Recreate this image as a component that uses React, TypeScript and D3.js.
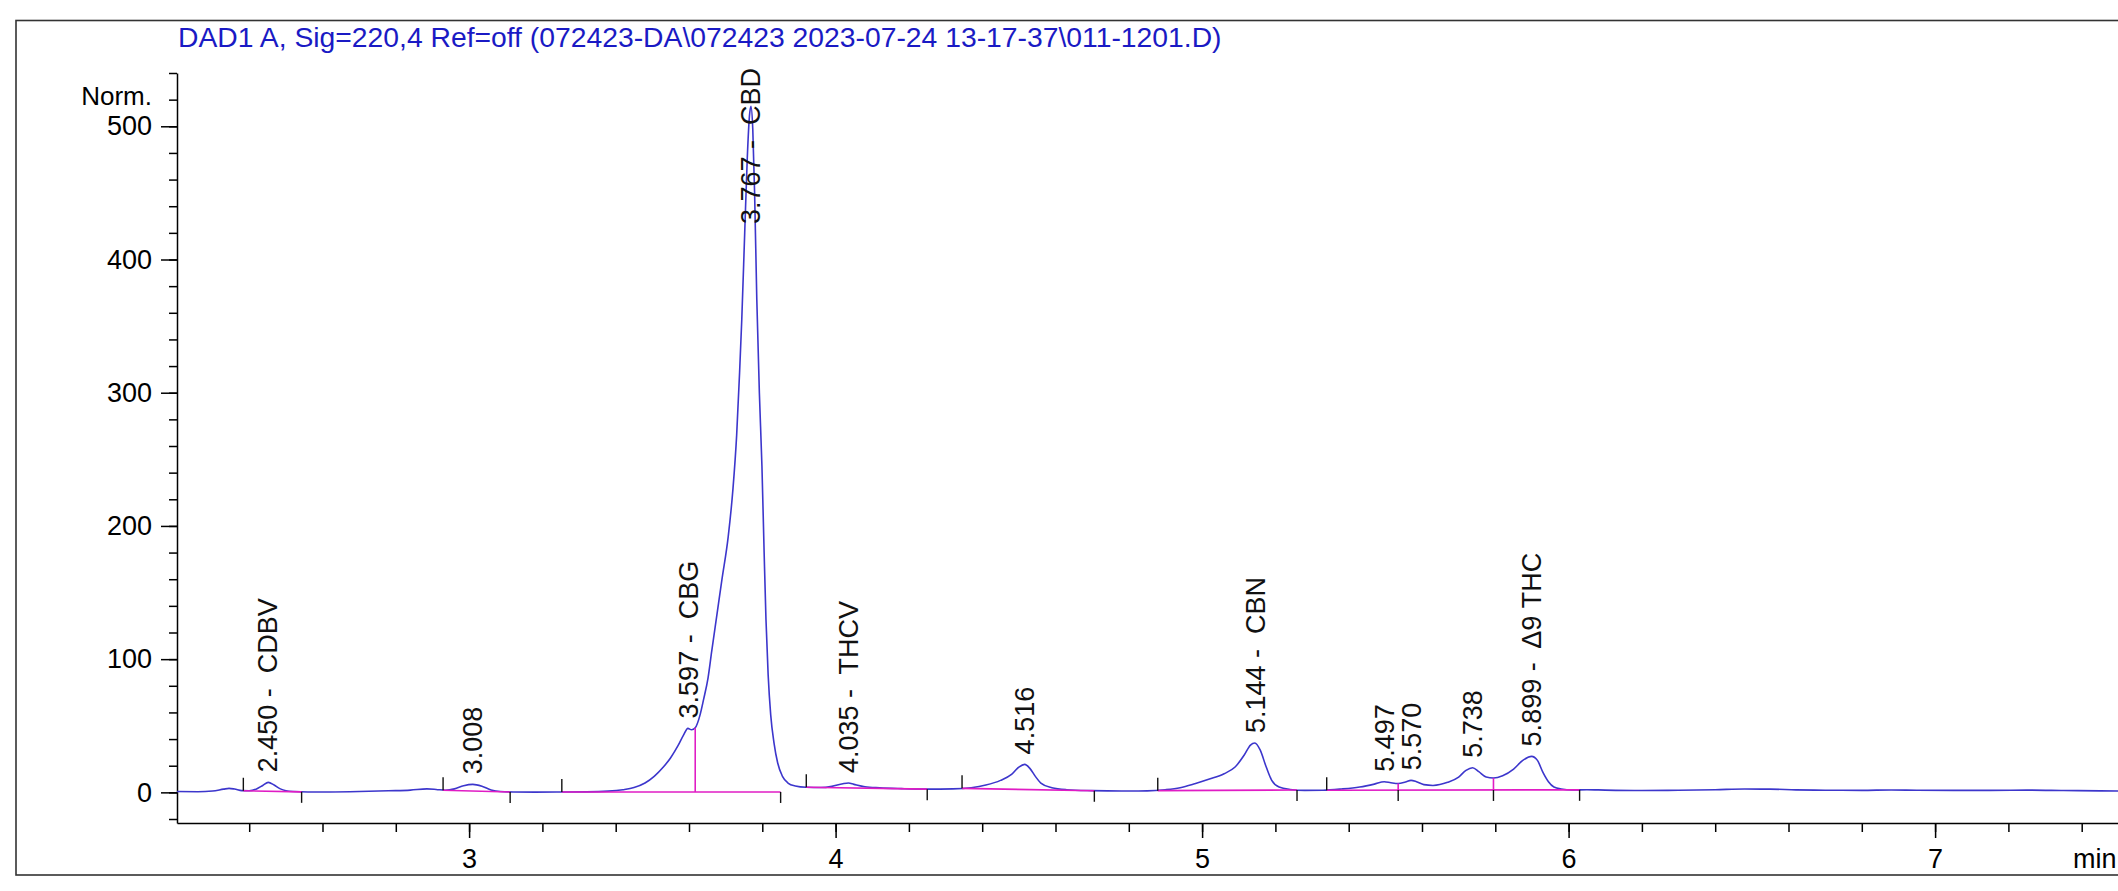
import React, {useEffect, useRef} from 'react';
import * as d3 from 'd3';

// Chromatogram: DAD1 A, 220 nm
const TITLE =
  'DAD1 A, Sig=220,4 Ref=off (072423-DA\\072423 2023-07-24 13-17-37\\011-1201.D)';

// retention time (min) and signal (Norm.)
const times = [
  2.2, 2.26, 2.3, 2.33, 2.345, 2.36, 2.38, 2.4, 2.42, 2.437, 2.452, 2.468,
  2.485, 2.5, 2.52, 2.56, 2.62, 2.7, 2.78, 2.84, 2.885, 2.91, 2.935, 2.96,
  2.985, 3.01, 3.035, 3.06, 3.085, 3.12, 3.18, 3.25, 3.32, 3.38, 3.42, 3.45,
  3.48, 3.505, 3.53, 3.55, 3.57, 3.585, 3.597, 3.607, 3.617, 3.63, 3.64,
  3.652, 3.662, 3.676, 3.69, 3.707, 3.72, 3.73, 3.738, 3.744, 3.752, 3.759,
  3.765, 3.769, 3.774, 3.779, 3.785, 3.792, 3.799, 3.805, 3.81, 3.816, 3.823,
  3.832, 3.842, 3.855, 3.87, 3.89, 3.92, 3.96, 3.99, 4.02, 4.035, 4.05, 4.08,
  4.12, 4.18, 4.25, 4.32, 4.37, 4.41, 4.45, 4.48, 4.5, 4.516, 4.53, 4.545,
  4.56, 4.59, 4.63, 4.7, 4.78, 4.85, 4.9, 4.94, 4.98, 5.02, 5.06, 5.09,
  5.115, 5.132, 5.144, 5.158, 5.175, 5.19, 5.21, 5.24, 5.28, 5.33, 5.38,
  5.43, 5.47, 5.497, 5.515, 5.535, 5.555, 5.57, 5.585, 5.605, 5.63, 5.67,
  5.7, 5.72, 5.738, 5.755, 5.775, 5.795, 5.82, 5.85, 5.875, 5.899, 5.915,
  5.93, 5.945, 5.96, 5.98, 6.01, 6.05, 6.1, 6.2, 6.3, 6.4, 6.48, 6.55, 6.62,
  6.7, 6.8, 6.88, 6.95, 7.05, 7.15, 7.25, 7.35, 7.45, 7.55, 7.6,
];
const signal = [
  0.6, 0.5, 1.0, 2.4, 3.0, 2.5, 1.3, 1.2, 2.6, 5.2, 7.5, 5.5,
  2.6, 1.2, 0.6, 0.3, 0.3, 0.6, 1.2, 1.7, 2.6, 2.2, 1.6, 2.6,
  5.0, 6.0, 4.6, 1.8, 0.6, 0.3, 0.2, 0.3, 0.4, 0.9, 2.0, 3.6,
  7.0, 12, 19, 26, 35, 43, 48, 47, 48.5, 58, 70,
  86, 106, 133, 160, 192, 228, 268, 315, 355, 420, 476,
  508, 515, 498, 450, 370, 300, 245, 180, 130, 88, 58,
  37, 22, 12, 7, 4.8, 3.8, 3.6, 4.5, 6.5, 7.0, 6.0, 4.2,
  3.4, 2.8, 2.4, 2.6, 3.5, 5.5, 9, 13.5, 19, 21, 18, 12,
  7, 3.5, 2.0, 1.3, 1.0, 1.1, 2.0, 3.5, 6.5, 10, 14, 19,
  28, 35.5, 37, 32, 19, 9, 4, 2.2, 1.5, 1.6, 2.5,
  4.0, 6.2, 8.0, 7.2, 6.6, 7.8, 9.0, 8.0, 5.8, 5.2, 7.5,
  11.5, 16.5, 18.5, 15.5, 11.5, 10.8, 12.5, 17.5, 24, 27, 24,
  15, 8, 4, 2.5, 1.8, 2.0, 1.7, 1.4, 1.6, 2.0, 2.5, 2.4, 1.9,
  1.6, 1.5, 1.8, 1.6, 1.5, 1.5, 1.7, 1.4, 1.1, 1.0, 1.0,
];

// peak annotations
const peakTimes = [2.45, 3.008, 3.597, 3.767, 4.035, 4.516, 5.144, 5.497, 5.57, 5.738, 5.899];
const peakNames = ['CDBV', '', 'CBG', 'CBD', 'THCV', '', 'CBN', '', '', '', 'Δ9 THC'];
const peakHeights = [7.5, 6, 48, 515, 7, 21, 37, 8, 9, 18.5, 27];

// integration baselines
const baseStart = [2.384, 2.929, 3.253, 3.92, 4.345, 4.879, 5.34];
const baseStartValue = [1.2, 1.6, 0.3, 3.8, 3.0, 1.3, 1.6];
const baseEnd = [2.543, 3.112, 3.85, 4.25, 4.706, 5.259, 6.03];
const baseEndValue = [0.4, 0.3, 0.3, 2.4, 1.2, 1.8, 1.9];

// drop lines between unresolved peaks
const dropTimes = [3.617, 5.535, 5.795];
const dropBase = [0.3, 1.7, 1.8];
const dropTop = [48.5, 6.6, 10.8];

// extra event marks (on drop lines)
const markTimes = [5.535, 5.795];
const markValues = [1.7, 1.8];

const xMajorTicks = [3, 4, 5, 6, 7];
const yMajorTicks = [0, 100, 200, 300, 400, 500];

const W = 2118;
const H = 891;
const FONT = '"Liberation Sans", Arial, Helvetica, sans-serif';

export default function App() {
  const svgRef = useRef<SVGSVGElement>(null);

  useEffect(() => {
    if (!svgRef.current) return;
    const svg = d3.select(svgRef.current);
    svg.selectAll('*').remove();

    const left = 177;
    const top = 73;
    const bottom = 823;
    const pxPerMin = 366.5;
    const x0 = 2.203;
    const x1 = 7.6;

    const x = d3
      .scaleLinear()
      .domain([x0, x1])
      .range([left, left + (x1 - x0) * pxPerMin]);
    const y = d3.scaleLinear().domain([-23, 540]).range([bottom, top]);

    // outer frame
    svg
      .append('rect')
      .attr('x', 16)
      .attr('y', 20.5)
      .attr('width', W)
      .attr('height', 854.5)
      .attr('fill', 'none')
      .attr('stroke', '#333')
      .attr('stroke-width', 1.6);

    svg
      .append('text')
      .attr('x', 178)
      .attr('y', 47)
      .attr('font-family', FONT)
      .attr('font-size', 28.3)
      .attr('fill', '#1a1ac4')
      .text(TITLE);

    svg
      .append('text')
      .attr('x', 152)
      .attr('y', 105)
      .attr('text-anchor', 'end')
      .attr('font-family', FONT)
      .attr('font-size', 26)
      .text('Norm.');

    // y axis
    svg
      .append('g')
      .attr('transform', `translate(${left},0)`)
      .call(
        d3
          .axisLeft(y)
          .tickValues(d3.range(-20, 541, 20))
          .tickSize(8)
          .tickSizeOuter(0)
          .tickFormat(() => ''),
      )
      .call((g) => g.selectAll('line,path').attr('stroke-width', 1.5));

    svg
      .append('g')
      .attr('transform', `translate(${left},0)`)
      .call(d3.axisLeft(y).tickValues(yMajorTicks).tickSize(16).tickPadding(9))
      .attr('font-size', 27)
      .attr('font-family', FONT)
      .call((g) => g.select('.domain').remove())
      .call((g) => g.selectAll('line').attr('stroke-width', 1.5));

    // x axis
    svg
      .append('g')
      .attr('transform', `translate(0,${bottom})`)
      .call(
        d3
          .axisBottom(x)
          .tickValues(d3.range(12, 38).map((i) => i / 5))
          .tickSize(9)
          .tickSizeOuter(0)
          .tickFormat(() => ''),
      )
      .call((g) => g.selectAll('line,path').attr('stroke-width', 1.5));

    svg
      .append('g')
      .attr('transform', `translate(0,${bottom})`)
      .call(
        d3
          .axisBottom(x)
          .tickValues(xMajorTicks)
          .tickSize(15)
          .tickPadding(11)
          .tickFormat(d3.format('d')),
      )
      .attr('font-size', 27)
      .attr('font-family', FONT)
      .call((g) => g.select('.domain').remove())
      .call((g) => g.selectAll('line').attr('stroke-width', 1.5));

    svg
      .append('text')
      .attr('x', 2073)
      .attr('y', 868)
      .attr('font-family', FONT)
      .attr('font-size', 27)
      .text('min');

    // clip for the trace
    svg
      .append('defs')
      .append('clipPath')
      .attr('id', 'plot-clip')
      .append('rect')
      .attr('x', left)
      .attr('y', top)
      .attr('width', W)
      .attr('height', bottom - top);

    const points = times.map((t, i) => [t, signal[i]] as [number, number]);
    const line = d3
      .line<[number, number]>()
      .x((d) => x(d[0]))
      .y((d) => y(d[1]))
      .curve(d3.curveMonotoneX);

    const plot = svg.append('g').attr('clip-path', 'url(#plot-clip)');

    plot
      .append('path')
      .datum(points)
      .attr('d', line)
      .attr('fill', 'none')
      .attr('stroke', '#3c36cc')
      .attr('stroke-width', 1.6);

    // baselines
    const magenta = '#e01cc4';
    plot
      .selectAll('.baseline')
      .data(baseStart)
      .enter()
      .append('line')
      .attr('x1', (d) => x(d))
      .attr('y1', (_, i) => y(baseStartValue[i]))
      .attr('x2', (_, i) => x(baseEnd[i]))
      .attr('y2', (_, i) => y(baseEndValue[i]))
      .attr('stroke', magenta)
      .attr('stroke-width', 1.6);

    plot
      .selectAll('.drop')
      .data(dropTimes)
      .enter()
      .append('line')
      .attr('x1', (d) => x(d))
      .attr('x2', (d) => x(d))
      .attr('y1', (_, i) => y(dropBase[i]))
      .attr('y2', (_, i) => y(dropTop[i]))
      .attr('stroke', magenta)
      .attr('stroke-width', 1.6);

    // integration event marks: start marks above, end marks below
    const marks: {t: number; v: number; up: boolean}[] = [
      ...baseStart.map((t, i) => ({t, v: baseStartValue[i], up: true})),
      ...baseEnd.map((t, i) => ({t, v: baseEndValue[i], up: false})),
      ...markTimes.map((t, i) => ({t, v: markValues[i], up: false})),
    ];
    plot
      .selectAll('.mark')
      .data(marks)
      .enter()
      .append('line')
      .attr('x1', (d) => x(d.t))
      .attr('x2', (d) => x(d.t))
      .attr('y1', (d) => y(d.v))
      .attr('y2', (d) => y(d.v) + (d.up ? -13 : 11))
      .attr('stroke', '#111')
      .attr('stroke-width', 1.4);

    // peak labels
    const labelTop = 68;
    peakTimes.forEach((t, i) => {
      const label = peakNames[i] ? `${t.toFixed(3)} -  ${peakNames[i]}` : t.toFixed(3);
      const px = x(t);
      let py = y(peakHeights[i]) - 10;
      const txt = svg
        .append('text')
        .attr('font-family', FONT)
        .attr('font-size', 27)
        .attr('fill', '#111')
        .attr('dy', '0.36em')
        .style('white-space', 'pre')
        .text(label);
      const len = (txt.node() as SVGTextElement).getComputedTextLength();
      if (py - len < labelTop) py = labelTop + len;
      txt.attr('transform', `translate(${px},${py}) rotate(-90)`);
    });
  }, []);

  return (
    <div>
      <style>{`html,body{margin:0;padding:0;overflow:hidden;background:#fff}`}</style>
      <svg ref={svgRef} width={W} height={H} style={{display: 'block'}} />
    </div>
  );
}
